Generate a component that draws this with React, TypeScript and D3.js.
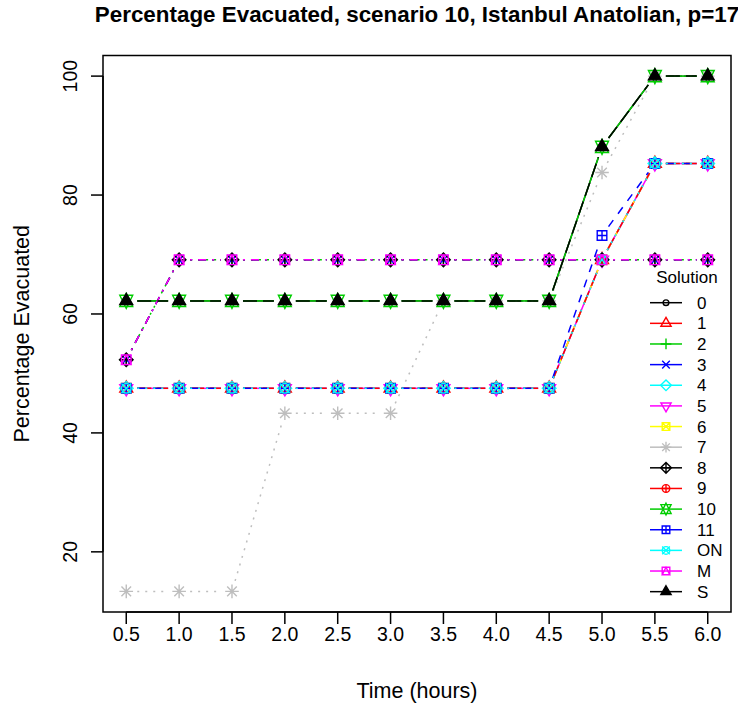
import React from 'react';
import * as d3 from 'd3';

const times = [0.5, 1.0, 1.5, 2.0, 2.5, 3.0, 3.5, 4.0, 4.5, 5.0, 5.5, 6.0];
const timeTicks = ['0.5', '1.0', '1.5', '2.0', '2.5', '3.0', '3.5', '4.0', '4.5', '5.0', '5.5', '6.0'];
const yTicks = [20, 40, 60, 80, 100];

// one array per solution
const sol0 = [62.2, 62.2, 62.2, 62.2, 62.2, 62.2, 62.2, 62.2, 62.2, 88.1, 100, 100];
const sol1 = [47.5, 47.5, 47.5, 47.5, 47.5, 47.5, 47.5, 47.5, 47.5, 69.1, 85.3, 85.3];
const sol2 = [52.3, 69.1, 69.1, 69.1, 69.1, 69.1, 69.1, 69.1, 69.1, 69.1, 69.1, 69.1];
const sol3 = [52.3, 69.1, 69.1, 69.1, 69.1, 69.1, 69.1, 69.1, 69.1, 69.1, 69.1, 69.1];
const sol4 = [47.5, 47.5, 47.5, 47.5, 47.5, 47.5, 47.5, 47.5, 47.5, 69.1, 85.3, 85.3];
const sol5 = [47.5, 47.5, 47.5, 47.5, 47.5, 47.5, 47.5, 47.5, 47.5, 69.1, 85.3, 85.3];
const sol6 = [47.5, 47.5, 47.5, 47.5, 47.5, 47.5, 47.5, 47.5, 47.5, 69.1, 85.3, 85.3];
const sol7 = [13.35, 13.35, 13.35, 43.3, 43.3, 43.3, 62.2, 62.2, 62.2, 83.8, 100, 100];
const sol8 = [52.3, 69.1, 69.1, 69.1, 69.1, 69.1, 69.1, 69.1, 69.1, 69.1, 69.1, 69.1];
const sol9 = [47.5, 47.5, 47.5, 47.5, 47.5, 47.5, 47.5, 47.5, 47.5, 69.1, 85.3, 85.3];
const sol10 = [62.2, 62.2, 62.2, 62.2, 62.2, 62.2, 62.2, 62.2, 62.2, 88.1, 100, 100];
const sol11 = [47.5, 47.5, 47.5, 47.5, 47.5, 47.5, 47.5, 47.5, 47.5, 73.2, 85.3, 85.3];
const solON = [47.5, 47.5, 47.5, 47.5, 47.5, 47.5, 47.5, 47.5, 47.5, 69.1, 85.3, 85.3];
const solM = [52.3, 69.1, 69.1, 69.1, 69.1, 69.1, 69.1, 69.1, 69.1, 69.1, 69.1, 69.1];
const solS = [62.2, 62.2, 62.2, 62.2, 62.2, 62.2, 62.2, 62.2, 62.2, 88.1, 100, 100];

const labels = ['0', '1', '2', '3', '4', '5', '6', '7', '8', '9', '10', '11', 'ON', 'M', 'S'];
const allValues = [sol0, sol1, sol2, sol3, sol4, sol5, sol6, sol7, sol8, sol9, sol10, sol11, solON, solM, solS];

const colors = ['#000000', '#FF0000', '#00CD00', '#0000FF', '#00FFFF', '#FF00FF', '#FFFF00', '#BEBEBE',
  '#000000', '#FF0000', '#00CD00', '#0000FF', '#00FFFF', '#FF00FF', '#000000'];
const pchs = [1, 2, 3, 4, 5, 6, 7, 8, 9, 10, 11, 12, 13, 14, 17];
// R lty 1..5 recycled
const dashes = ['', '8,8', '2,6', '2,6,8,6', '14,6'];

const FONT = '"Liberation Sans", Arial, Helvetica, sans-serif';

const TRC0 = 1.5551;
const TRC1 = TRC0 * Math.sqrt(3) / 2;
const TRC2 = TRC0 / 2;

function marker(pch: number, x: number, y: number, col: string, s: number, key: string) {
  const sw = 1.4;
  const common = { stroke: col, strokeWidth: sw, fill: 'none' };
  const q = Math.SQRT2 * s;
  const tri = (dir: number) => {
    const r = TRC0 * s, xc = TRC1 * s, yc = TRC2 * s;
    return `M${x},${y - dir * r}L${x + xc},${y + dir * yc}L${x - xc},${y + dir * yc}Z`;
  };
  switch (pch) {
    case 1:
      return <circle key={key} cx={x} cy={y} r={s * 0.75} {...common} />;
    case 2:
      return <path key={key} d={tri(1)} {...common} />;
    case 3:
      return <path key={key} d={`M${x - q},${y}H${x + q}M${x},${y - q}V${y + q}`} {...common} />;
    case 4:
      return <path key={key} d={`M${x - s},${y - s}L${x + s},${y + s}M${x - s},${y + s}L${x + s},${y - s}`} {...common} />;
    case 5:
      return <path key={key} d={`M${x},${y - q}L${x + q},${y}L${x},${y + q}L${x - q},${y}Z`} {...common} />;
    case 6:
      return <path key={key} d={tri(-1)} {...common} />;
    case 7:
      return <path key={key} d={`M${x - s},${y - s}H${x + s}V${y + s}H${x - s}ZM${x - s},${y - s}L${x + s},${y + s}M${x - s},${y + s}L${x + s},${y - s}`} {...common} />;
    case 8:
      return <path key={key} d={`M${x - s},${y - s}L${x + s},${y + s}M${x - s},${y + s}L${x + s},${y - s}M${x - q},${y}H${x + q}M${x},${y - q}V${y + q}`} {...common} />;
    case 9:
      return <path key={key} d={`M${x},${y - q}L${x + q},${y}L${x},${y + q}L${x - q},${y}ZM${x - q},${y}H${x + q}M${x},${y - q}V${y + q}`} {...common} />;
    case 10:
      return (
        <g key={key}>
          <circle cx={x} cy={y} r={s} {...common} />
          <path d={`M${x - s},${y}H${x + s}M${x},${y - s}V${y + s}`} {...common} />
        </g>
      );
    case 11: {
      const r = TRC0 * s;
      let yc = TRC2 * s;
      yc = 0.5 * (yc + r);
      const xc = TRC1 * s;
      return <path key={key} d={`M${x},${y - r}L${x + xc},${y + yc}L${x - xc},${y + yc}ZM${x},${y + r}L${x + xc},${y - yc}L${x - xc},${y - yc}Z`} {...common} />;
    }
    case 12:
      return <path key={key} d={`M${x - s},${y - s}H${x + s}V${y + s}H${x - s}ZM${x - s},${y}H${x + s}M${x},${y - s}V${y + s}`} {...common} />;
    case 13:
      return (
        <g key={key}>
          <circle cx={x} cy={y} r={s} {...common} />
          <path d={`M${x - s},${y - s}L${x + s},${y + s}M${x - s},${y + s}L${x + s},${y - s}`} {...common} />
        </g>
      );
    case 14:
      return <path key={key} d={`M${x - s},${y - s}H${x + s}V${y + s}H${x - s}ZM${x},${y - s}L${x + s},${y + s}L${x - s},${y + s}Z`} {...common} />;
    case 17:
      return <path key={key} d={tri(1)} fill={col} stroke={col} strokeWidth={sw} />;
    default:
      return null;
  }
}

export default function App() {
  const width = 738;
  const height = 711;
  const box = { left: 103, right: 731, top: 55.5, bottom: 612 };

  const xExt = d3.extent(times) as [number, number];
  const yExt = d3.extent(allValues.flat()) as [number, number];
  const xPad = (xExt[1] - xExt[0]) * 0.04;
  const yPad = (yExt[1] - yExt[0]) * 0.04;

  const x = d3.scaleLinear().domain([xExt[0] - xPad, xExt[1] + xPad]).range([box.left, box.right]);
  const y = d3.scaleLinear().domain([yExt[0] - yPad, yExt[1] + yPad]).range([box.bottom, box.top]);

  const gap = 11;
  const ms = 4.8;

  const seriesEls = allValues.map((vals, i) => {
    const col = colors[i];
    const dash = dashes[i % 5];
    const pts = vals.map((v, j) => [x(times[j]), y(v)]);
    const segs = [];
    for (let j = 0; j < pts.length - 1; j++) {
      const [x1, y1] = pts[j];
      const [x2, y2] = pts[j + 1];
      const L = Math.hypot(x2 - x1, y2 - y1);
      if (L <= 2 * gap) continue;
      const ux = (x2 - x1) / L, uy = (y2 - y1) / L;
      segs.push(
        <line key={`s${j}`} x1={x1 + ux * gap} y1={y1 + uy * gap} x2={x2 - ux * gap} y2={y2 - uy * gap}
          stroke={col} strokeWidth={1.5} strokeDasharray={dash || undefined} />
      );
    }
    return (
      <g key={labels[i]}>
        {segs}
        {pts.map((p, j) => marker(pchs[i], p[0], p[1], col, ms, `m${j}`))}
      </g>
    );
  });

  const legX = 650;
  const legY0 = 302.7;
  const legStep = 20.64;

  return (
    <svg width={width} height={height} style={{ position: 'absolute', left: 0, top: 0, background: '#fff' }} fontFamily={FONT}>
      <rect x={0} y={0} width={width} height={height} fill="#fff" />
      <text x={(box.left + box.right) / 2} y={22} textAnchor="middle" fontWeight="bold" fontSize={22.4}>
        Percentage Evacuated, scenario 10, Istanbul Anatolian, p=17
      </text>

      <rect x={box.left} y={box.top} width={box.right - box.left} height={box.bottom - box.top}
        fill="none" stroke="#000" strokeWidth={1.5} />

      {/* x axis */}
      <line x1={x(times[0])} x2={x(times[times.length - 1])} y1={box.bottom} y2={box.bottom} stroke="#000" strokeWidth={1.5} />
      {times.map((t, i) => (
        <g key={t}>
          <line x1={x(t)} x2={x(t)} y1={box.bottom} y2={box.bottom + 12} stroke="#000" strokeWidth={1.5} />
          <text x={x(t)} y={641} textAnchor="middle" fontSize={19.5}>{timeTicks[i]}</text>
        </g>
      ))}
      <text x={(box.left + box.right) / 2} y={698} textAnchor="middle" fontSize={21.5}>Time (hours)</text>

      {/* y axis */}
      <line x1={box.left} x2={box.left} y1={y(yTicks[0])} y2={y(yTicks[yTicks.length - 1])} stroke="#000" strokeWidth={1.5} />
      {yTicks.map(t => (
        <g key={t}>
          <line x1={box.left - 12} x2={box.left} y1={y(t)} y2={y(t)} stroke="#000" strokeWidth={1.5} />
          <text transform={`translate(77,${y(t)}) rotate(-90)`} textAnchor="middle" fontSize={19.5}>{t}</text>
        </g>
      ))}
      <text transform={`translate(29,${(box.top + box.bottom) / 2}) rotate(-90)`} textAnchor="middle" fontSize={21.5}>
        Percentage Evacuated
      </text>

      <g>{seriesEls}</g>

      {/* legend */}
      <text x={687} y={283} textAnchor="middle" fontSize={17}>Solution</text>
      {labels.map((lab, i) => {
        const cy = legY0 + i * legStep;
        return (
          <g key={lab}>
            <line x1={legX} x2={legX + 32} y1={cy} y2={cy} stroke={colors[i]} strokeWidth={1.5} />
            {marker(pchs[i], legX + 16, cy, colors[i], 3.8, 'lm')}
            <text x={697} y={cy + 6} fontSize={17}>{lab}</text>
          </g>
        );
      })}
    </svg>
  );
}
